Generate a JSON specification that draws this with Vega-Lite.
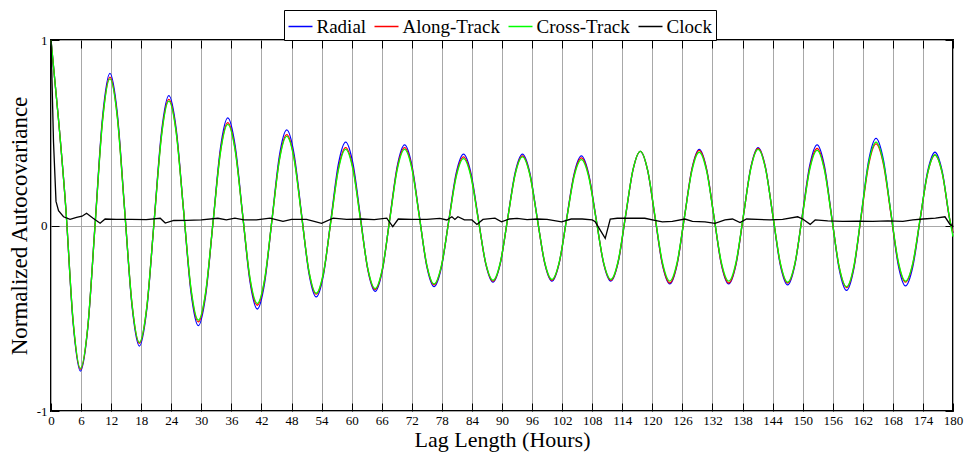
{
  "$schema": "https://vega.github.io/schema/vega-lite/v6.json",
  "width": 902,
  "height": 371,
  "autosize": {"type": "none"},
  "padding": {"left": 51, "top": 40, "right": 16, "bottom": 44},
  "background": "white",
  "config": {
    "font": "Liberation Serif",
    "view": {"stroke": "black", "strokeWidth": 2},
    "axis": {"domain": false, "labelFont": "Liberation Serif", "titleFont": "Liberation Serif", "labelColor": "black", "labelFontSize": 13, "tickColor": "black", "tickWidth": 1, "gridColor": "#a8a8a8", "gridWidth": 1, "gridOpacity": 1, "titleColor": "black", "titleFontWeight": "normal"},
    "legend": {"labelFont": "Liberation Serif", "symbolType": "stroke", "symbolSize": 576, "symbolStrokeWidth": 1.5, "labelFontSize": 19, "labelColor": "black", "labelOffset": 3, "columnPadding": 5, "padding": 3.5, "strokeColor": "black", "fillColor": "white"}
  },
  "datasets": {
    "m": [
      {"t":0,"Radial":1,"Along-Track":1,"Cross-Track":1},
      {"t":1.47,"Radial":0.58,"Along-Track":0.58,"Cross-Track":0.58},
      {"t":2.94,"Radial":0.1,"Along-Track":0.1,"Cross-Track":0.1},
      {"t":4.41,"Radial":-0.524,"Along-Track":-0.516,"Cross-Track":-0.512},
      {"t":5.88,"Radial":-0.785,"Along-Track":-0.775,"Cross-Track":-0.77},
      {"t":7.35,"Radial":-0.55,"Along-Track":-0.545,"Cross-Track":-0.543},
      {"t":8.82,"Radial":0.018,"Along-Track":0.013,"Cross-Track":0.01},
      {"t":10.29,"Radial":0.585,"Along-Track":0.57,"Cross-Track":0.563},
      {"t":11.76,"Radial":0.82,"Along-Track":0.8,"Cross-Track":0.79},
      {"t":13.23,"Radial":0.605,"Along-Track":0.59,"Cross-Track":0.583},
      {"t":14.7,"Radial":0.085,"Along-Track":0.083,"Cross-Track":0.08},
      {"t":16.17,"Radial":-0.435,"Along-Track":-0.425,"Cross-Track":-0.423},
      {"t":17.64,"Radial":-0.65,"Along-Track":-0.635,"Cross-Track":-0.63},
      {"t":19.11,"Radial":-0.453,"Along-Track":-0.443,"Cross-Track":-0.44},
      {"t":20.58,"Radial":0.025,"Along-Track":0.023,"Cross-Track":0.02},
      {"t":22.05,"Radial":0.503,"Along-Track":0.488,"Cross-Track":0.48},
      {"t":23.52,"Radial":0.7,"Along-Track":0.68,"Cross-Track":0.67},
      {"t":24.99,"Radial":0.519,"Along-Track":0.505,"Cross-Track":0.498},
      {"t":26.46,"Radial":0.08,"Along-Track":0.08,"Cross-Track":0.08},
      {"t":27.93,"Radial":-0.359,"Along-Track":-0.345,"Cross-Track":-0.338},
      {"t":29.4,"Radial":-0.54,"Along-Track":-0.52,"Cross-Track":-0.51},
      {"t":30.87,"Radial":-0.376,"Along-Track":-0.363,"Cross-Track":-0.356},
      {"t":32.34,"Radial":0.02,"Along-Track":0.018,"Cross-Track":0.018},
      {"t":33.81,"Radial":0.416,"Along-Track":0.398,"Cross-Track":0.391},
      {"t":35.28,"Radial":0.58,"Along-Track":0.555,"Cross-Track":0.545},
      {"t":36.75,"Radial":0.429,"Along-Track":0.411,"Cross-Track":0.404},
      {"t":38.22,"Radial":0.065,"Along-Track":0.063,"Cross-Track":0.063},
      {"t":39.69,"Radial":-0.299,"Along-Track":-0.286,"Cross-Track":-0.279},
      {"t":41.16,"Radial":-0.45,"Along-Track":-0.43,"Cross-Track":-0.42},
      {"t":42.63,"Radial":-0.309,"Along-Track":-0.295,"Cross-Track":-0.289},
      {"t":44.1,"Radial":0.033,"Along-Track":0.03,"Cross-Track":0.03},
      {"t":45.57,"Radial":0.374,"Along-Track":0.355,"Cross-Track":0.349},
      {"t":47.04,"Radial":0.515,"Along-Track":0.49,"Cross-Track":0.48},
      {"t":48.51,"Radial":0.384,"Along-Track":0.364,"Cross-Track":0.357},
      {"t":49.98,"Radial":0.065,"Along-Track":0.06,"Cross-Track":0.058},
      {"t":51.45,"Radial":-0.254,"Along-Track":-0.244,"Cross-Track":-0.242},
      {"t":52.92,"Radial":-0.385,"Along-Track":-0.37,"Cross-Track":-0.365},
      {"t":54.39,"Radial":-0.263,"Along-Track":-0.255,"Cross-Track":-0.252},
      {"t":55.86,"Radial":0.033,"Along-Track":0.025,"Cross-Track":0.023},
      {"t":57.33,"Radial":0.328,"Along-Track":0.305,"Cross-Track":0.297},
      {"t":58.8,"Radial":0.45,"Along-Track":0.42,"Cross-Track":0.41},
      {"t":60.27,"Radial":0.332,"Along-Track":0.309,"Cross-Track":0.3},
      {"t":61.74,"Radial":0.048,"Along-Track":0.038,"Cross-Track":0.035},
      {"t":63.21,"Radial":-0.237,"Along-Track":-0.234,"Cross-Track":-0.23},
      {"t":64.68,"Radial":-0.355,"Along-Track":-0.345,"Cross-Track":-0.34},
      {"t":66.15,"Radial":-0.239,"Along-Track":-0.234,"Cross-Track":-0.23},
      {"t":67.62,"Radial":0.04,"Along-Track":0.038,"Cross-Track":0.035},
      {"t":69.09,"Radial":0.319,"Along-Track":0.309,"Cross-Track":0.3},
      {"t":70.56,"Radial":0.435,"Along-Track":0.42,"Cross-Track":0.41},
      {"t":72.03,"Radial":0.323,"Along-Track":0.312,"Cross-Track":0.304},
      {"t":73.5,"Radial":0.053,"Along-Track":0.05,"Cross-Track":0.048},
      {"t":74.97,"Radial":-0.218,"Along-Track":-0.212,"Cross-Track":-0.209},
      {"t":76.44,"Radial":-0.33,"Along-Track":-0.32,"Cross-Track":-0.315},
      {"t":77.91,"Radial":-0.226,"Along-Track":-0.219,"Cross-Track":-0.216},
      {"t":79.38,"Radial":0.028,"Along-Track":0.025,"Cross-Track":0.023},
      {"t":80.85,"Radial":0.281,"Along-Track":0.269,"Cross-Track":0.261},
      {"t":82.32,"Radial":0.385,"Along-Track":0.37,"Cross-Track":0.36},
      {"t":83.79,"Radial":0.284,"Along-Track":0.272,"Cross-Track":0.264},
      {"t":85.26,"Radial":0.04,"Along-Track":0.035,"Cross-Track":0.033},
      {"t":86.73,"Radial":-0.204,"Along-Track":-0.202,"Cross-Track":-0.199},
      {"t":88.2,"Radial":-0.305,"Along-Track":-0.3,"Cross-Track":-0.295},
      {"t":89.67,"Radial":-0.204,"Along-Track":-0.201,"Cross-Track":-0.198},
      {"t":91.14,"Radial":0.04,"Along-Track":0.038,"Cross-Track":0.038},
      {"t":92.61,"Radial":0.284,"Along-Track":0.276,"Cross-Track":0.273},
      {"t":94.08,"Radial":0.385,"Along-Track":0.375,"Cross-Track":0.37},
      {"t":95.55,"Radial":0.285,"Along-Track":0.277,"Cross-Track":0.274},
      {"t":97.02,"Radial":0.043,"Along-Track":0.04,"Cross-Track":0.04},
      {"t":98.49,"Radial":-0.2,"Along-Track":-0.197,"Cross-Track":-0.194},
      {"t":99.96,"Radial":-0.3,"Along-Track":-0.295,"Cross-Track":-0.29},
      {"t":101.43,"Radial":-0.201,"Along-Track":-0.199,"Cross-Track":-0.196},
      {"t":102.9,"Radial":0.038,"Along-Track":0.035,"Cross-Track":0.033},
      {"t":104.37,"Radial":0.276,"Along-Track":0.269,"Cross-Track":0.261},
      {"t":105.84,"Radial":0.375,"Along-Track":0.365,"Cross-Track":0.355},
      {"t":107.31,"Radial":0.276,"Along-Track":0.269,"Cross-Track":0.261},
      {"t":108.78,"Radial":0.038,"Along-Track":0.035,"Cross-Track":0.033},
      {"t":110.25,"Radial":-0.201,"Along-Track":-0.199,"Cross-Track":-0.196},
      {"t":111.72,"Radial":-0.3,"Along-Track":-0.295,"Cross-Track":-0.29},
      {"t":113.19,"Radial":-0.198,"Along-Track":-0.194,"Cross-Track":-0.19},
      {"t":114.66,"Radial":0.05,"Along-Track":0.053,"Cross-Track":0.055},
      {"t":116.13,"Radial":0.298,"Along-Track":0.299,"Cross-Track":0.3},
      {"t":117.6,"Radial":0.4,"Along-Track":0.4,"Cross-Track":0.4},
      {"t":119.07,"Radial":0.296,"Along-Track":0.297,"Cross-Track":0.298},
      {"t":120.54,"Radial":0.043,"Along-Track":0.045,"Cross-Track":0.05},
      {"t":122.01,"Radial":-0.211,"Along-Track":-0.207,"Cross-Track":-0.198},
      {"t":123.48,"Radial":-0.315,"Along-Track":-0.31,"Cross-Track":-0.3},
      {"t":124.95,"Radial":-0.209,"Along-Track":-0.206,"Cross-Track":-0.198},
      {"t":126.42,"Radial":0.048,"Along-Track":0.048,"Cross-Track":0.048},
      {"t":127.89,"Radial":0.304,"Along-Track":0.301,"Cross-Track":0.293},
      {"t":129.36,"Radial":0.41,"Along-Track":0.405,"Cross-Track":0.395},
      {"t":130.83,"Radial":0.304,"Along-Track":0.301,"Cross-Track":0.293},
      {"t":132.3,"Radial":0.048,"Along-Track":0.048,"Cross-Track":0.048},
      {"t":133.77,"Radial":-0.209,"Along-Track":-0.206,"Cross-Track":-0.198},
      {"t":135.24,"Radial":-0.315,"Along-Track":-0.31,"Cross-Track":-0.3},
      {"t":136.71,"Radial":-0.208,"Along-Track":-0.204,"Cross-Track":-0.196},
      {"t":138.18,"Radial":0.053,"Along-Track":0.053,"Cross-Track":0.055},
      {"t":139.65,"Radial":0.313,"Along-Track":0.309,"Cross-Track":0.306},
      {"t":141.12,"Radial":0.42,"Along-Track":0.415,"Cross-Track":0.41},
      {"t":142.59,"Radial":0.312,"Along-Track":0.309,"Cross-Track":0.305},
      {"t":144.06,"Radial":0.05,"Along-Track":0.053,"Cross-Track":0.053},
      {"t":145.53,"Radial":-0.212,"Along-Track":-0.204,"Cross-Track":-0.2},
      {"t":147,"Radial":-0.32,"Along-Track":-0.31,"Cross-Track":-0.305},
      {"t":148.47,"Radial":-0.209,"Along-Track":-0.204,"Cross-Track":-0.201},
      {"t":149.94,"Radial":0.058,"Along-Track":0.053,"Cross-Track":0.05},
      {"t":151.41,"Radial":0.324,"Along-Track":0.309,"Cross-Track":0.301},
      {"t":152.88,"Radial":0.435,"Along-Track":0.415,"Cross-Track":0.405},
      {"t":154.35,"Radial":0.32,"Along-Track":0.305,"Cross-Track":0.298},
      {"t":155.82,"Radial":0.043,"Along-Track":0.04,"Cross-Track":0.038},
      {"t":157.29,"Radial":-0.235,"Along-Track":-0.225,"Cross-Track":-0.223},
      {"t":158.76,"Radial":-0.35,"Along-Track":-0.335,"Cross-Track":-0.33},
      {"t":160.23,"Radial":-0.23,"Along-Track":-0.222,"Cross-Track":-0.216},
      {"t":161.7,"Radial":0.06,"Along-Track":0.053,"Cross-Track":0.06},
      {"t":163.17,"Radial":0.35,"Along-Track":0.327,"Cross-Track":0.336},
      {"t":164.64,"Radial":0.47,"Along-Track":0.44,"Cross-Track":0.45},
      {"t":166.11,"Radial":0.354,"Along-Track":0.331,"Cross-Track":0.34},
      {"t":167.58,"Radial":0.073,"Along-Track":0.068,"Cross-Track":0.075},
      {"t":169.05,"Radial":-0.209,"Along-Track":-0.196,"Cross-Track":-0.19},
      {"t":170.52,"Radial":-0.325,"Along-Track":-0.305,"Cross-Track":-0.3},
      {"t":171.99,"Radial":-0.22,"Along-Track":-0.205,"Cross-Track":-0.201},
      {"t":173.46,"Radial":0.035,"Along-Track":0.038,"Cross-Track":0.04},
      {"t":174.93,"Radial":0.29,"Along-Track":0.28,"Cross-Track":0.281},
      {"t":176.4,"Radial":0.395,"Along-Track":0.38,"Cross-Track":0.38},
      {"t":177.87,"Radial":0.289,"Along-Track":0.28,"Cross-Track":0.28},
      {"t":179.34,"Radial":0.033,"Along-Track":0.035,"Cross-Track":0.035},
      {"t":180,"Radial":-0.04,"Along-Track":-0.04,"Cross-Track":-0.06}
    ],
    "clk": [
      {"t":0,"Clock":1},{"t":0.5,"Clock":0.45},{"t":1,"Clock":0.13},{"t":1.5,"Clock":0.08},{"t":2.5,"Clock":0.047},
      {"t":3.8,"Clock":0.033},{"t":5.1,"Clock":0.044},{"t":6.2,"Clock":0.05},{"t":7.1,"Clock":0.066},{"t":8.4,"Clock":0.039},
      {"t":9.8,"Clock":0.012},{"t":10.8,"Clock":0.035},{"t":13,"Clock":0.033},{"t":16,"Clock":0.033},{"t":19,"Clock":0.032},
      {"t":21.8,"Clock":0.039},{"t":22.8,"Clock":0.013},{"t":24.5,"Clock":0.027},{"t":27,"Clock":0.028},{"t":30,"Clock":0.03},
      {"t":33.3,"Clock":0.039},{"t":35,"Clock":0.03},{"t":36.7,"Clock":0.04},{"t":38.5,"Clock":0.03},{"t":41,"Clock":0.03},
      {"t":43.7,"Clock":0.04},{"t":46.3,"Clock":0.022},{"t":48,"Clock":0.033},{"t":51,"Clock":0.033},{"t":54,"Clock":0.012},
      {"t":56.3,"Clock":0.04},{"t":59,"Clock":0.033},{"t":62,"Clock":0.035},{"t":64.5,"Clock":0.032},{"t":67,"Clock":0.04},
      {"t":68.2,"Clock":-0.006},{"t":69.3,"Clock":0.035},{"t":72,"Clock":0.033},{"t":75,"Clock":0.033},{"t":77.6,"Clock":0.038},
      {"t":79,"Clock":0.03},{"t":80,"Clock":0.047},{"t":80.6,"Clock":0.033},{"t":81.2,"Clock":0.047},{"t":82.5,"Clock":0.03},
      {"t":84,"Clock":0.03},{"t":85,"Clock":0.006},{"t":86.2,"Clock":0.033},{"t":88.6,"Clock":0.04},{"t":89.9,"Clock":0.02},
      {"t":91.5,"Clock":0.035},{"t":93,"Clock":0.038},{"t":95,"Clock":0.032},{"t":97,"Clock":0.035},{"t":99,"Clock":0.033},
      {"t":101.9,"Clock":0.02},{"t":103.8,"Clock":0.035},{"t":106,"Clock":0.035},{"t":108,"Clock":0.03},{"t":108.6,"Clock":0.02},
      {"t":110.6,"Clock":-0.069},{"t":111.6,"Clock":0.035},{"t":113,"Clock":0.039},{"t":116,"Clock":0.04},{"t":118.5,"Clock":0.039},
      {"t":120.5,"Clock":0.028},{"t":122,"Clock":0.02},{"t":124,"Clock":0.022},{"t":126.5,"Clock":0.035},{"t":128,"Clock":0.022},
      {"t":130.5,"Clock":0.02},{"t":132.5,"Clock":0.012},{"t":134.5,"Clock":0.03},{"t":136,"Clock":0.035},{"t":137.5,"Clock":0.016},
      {"t":138.8,"Clock":0.035},{"t":141,"Clock":0.033},{"t":143.5,"Clock":0.03},{"t":146,"Clock":0.033},{"t":149,"Clock":0.047},
      {"t":150,"Clock":0.035},{"t":151.5,"Clock":0.006},{"t":152.5,"Clock":0.03},{"t":155,"Clock":0.025},{"t":158,"Clock":0.022},
      {"t":161,"Clock":0.024},{"t":164,"Clock":0.022},{"t":167,"Clock":0.025},{"t":170,"Clock":0.022},{"t":172,"Clock":0.03},
      {"t":174,"Clock":0.035},{"t":176.5,"Clock":0.04},{"t":178.4,"Clock":0.047},{"t":179.4,"Clock":0.006},{"t":180,"Clock":-0.003}
    ]
  },
  "layer": [
    {
      "data": {"name": "m"},
      "transform": [{"fold": ["Radial"], "as": ["s", "v"]}],
      "mark": {"type": "line", "interpolate": "monotone", "strokeWidth": 1.3},
      "encoding": {
        "x": {"field": "t", "type": "quantitative", "scale": {"domain": [0, 180], "nice": false, "zero": false},
          "axis": {"orient": "bottom", "values": [0,6,12,18,24,30,36,42,48,54,60,66,72,78,84,90,96,102,108,114,120,126,132,138,144,150,156,162,168,174,180],
            "grid": true, "tickSize": -8, "labelPadding": 11, "labelFlush": false, "labelOverlap": false,
            "title": "Lag Length (Hours)", "titleFontSize": 22, "titleX": 451, "titleY": 35, "titleBaseline": "alphabetic", "titleAlign": "center"}},
        "y": {"field": "v", "type": "quantitative", "scale": {"domain": [-1, 1], "nice": false, "zero": false},
          "axis": {"orient": "left", "values": [-1, 0, 1], "labelExpr": "'' + datum.value", "grid": true, "tickSize": -8, "labelPadding": 12, "labelFlush": false, "labelOverlap": false,
            "title": "Normalized Autocovariance", "titleFontSize": 23, "titleAngle": -90, "titleX": -25, "titleY": 185.5, "titleBaseline": "alphabetic", "titleAlign": "center"}},
        "color": {"field": "s", "type": "nominal",
          "scale": {"domain": ["Radial", "Along-Track", "Cross-Track", "Clock"], "range": ["#0000ff", "#ff0000", "#00ff00", "#000000"]},
          "legend": {"orient": "none", "direction": "horizontal", "legendX": 233, "legendY": -30, "title": null, "labelFont": "Liberation Serif"}}
      }
    },
    {
      "data": {"name": "m"},
      "transform": [{"fold": ["Along-Track"], "as": ["s", "v"]}],
      "mark": {"type": "line", "interpolate": "monotone", "strokeWidth": 1.3},
      "encoding": {
        "x": {"field": "t", "type": "quantitative", "axis": null},
        "y": {"field": "v", "type": "quantitative", "axis": null},
        "color": {"field": "s", "type": "nominal"}
      }
    },
    {
      "data": {"name": "m"},
      "transform": [{"fold": ["Cross-Track"], "as": ["s", "v"]}],
      "mark": {"type": "line", "interpolate": "monotone", "strokeWidth": 1.3},
      "encoding": {
        "x": {"field": "t", "type": "quantitative", "axis": null},
        "y": {"field": "v", "type": "quantitative", "axis": null},
        "color": {"field": "s", "type": "nominal"}
      }
    },
    {
      "data": {"name": "clk"},
      "transform": [{"fold": ["Clock"], "as": ["s", "v"]}],
      "mark": {"type": "line", "strokeWidth": 1.3},
      "encoding": {
        "x": {"field": "t", "type": "quantitative",
          "axis": {"orient": "top", "values": [0,6,12,18,24,30,36,42,48,54,60,66,72,78,84,90,96,102,108,114,120,126,132,138,144,150,156,162,168,174,180],
            "grid": false, "labels": false, "tickSize": -8, "title": null}},
        "y": {"field": "v", "type": "quantitative",
          "axis": {"orient": "right", "values": [-1, 0, 1], "grid": false, "labels": false, "tickSize": -8, "title": null}},
        "color": {"field": "s", "type": "nominal"}
      }
    }
  ]
}
